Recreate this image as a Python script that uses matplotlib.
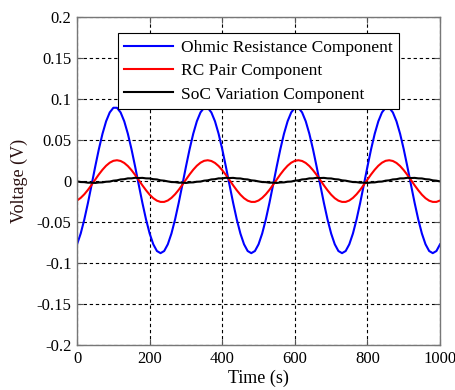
import numpy as np
import matplotlib
matplotlib.use("Agg")
import matplotlib.pyplot as plt

plt.rcParams.update({"font.family": "Liberation Serif", "font.size": 12})

# time axis (s), one sample every 10 s
time_s = np.arange(0, 1001, 10)

# one period (0..240 s), the signal repeats every 250 s
ohmic_period = [-0.0770, -0.0639, -0.0467, -0.0265, -0.0046, 0.0177, 0.0389, 0.0577,
                0.0730, 0.0838, 0.0895, 0.0895, 0.0838, 0.0730, 0.0577, 0.0389,
                0.0177, -0.0046, -0.0265, -0.0467, -0.0639, -0.0770, -0.0852, -0.0878,
                -0.0852]
rc_period = [-0.0236, -0.0204, -0.0160, -0.0106, -0.0045, 0.0019, 0.0082, 0.0139,
             0.0188, 0.0225, 0.0248, 0.0255, 0.0246, 0.0222, 0.0184, 0.0134,
             0.0076, 0.0013, -0.0051, -0.0111, -0.0165, -0.0208, -0.0238, -0.0253,
             -0.0253]
soc_period = [-0.0003, -0.0011, -0.0012, -0.0019, -0.0018, -0.0022, -0.0016, -0.0015,
              -0.0007, -0.0005, 0.0006, 0.0010, 0.0021, 0.0024, 0.0034, 0.0034,
              0.0041, 0.0038, 0.0040, 0.0034, 0.0033, 0.0024, 0.0021, 0.0010,
              0.0006]

ohmic = ohmic_period * 4 + ohmic_period[:1]
rc_pair = rc_period * 4 + rc_period[:1]
soc_var = soc_period * 4 + soc_period[:1]

fig = plt.figure(figsize=(4.56, 3.9), dpi=100)
ax = fig.add_axes([0.169, 0.115, 0.796, 0.841])

ax.plot(time_s, ohmic, color="#0000ff", lw=1.5, label="Ohmic Resistance Component")
ax.plot(time_s, rc_pair, color="#ff0000", lw=1.5, label="RC Pair Component")
ax.plot(time_s, soc_var, color="black", lw=1.5, label="SoC Variation Component")

ax.set_xlim(0, 1000)
ax.set_ylim(-0.2, 0.2)
ax.set_xticks(np.arange(0, 1001, 200))
ax.set_yticks(np.arange(-0.2, 0.201, 0.05))
ax.set_yticklabels(["-0.2", "-0.15", "-0.1", "-0.05", "0", "0.05", "0.1", "0.15", "0.2"])
ax.grid(True, color="black", linestyle=(0, (3, 2.5)), linewidth=0.8)
ax.tick_params(direction="in", top=True, right=True, length=4, color="#555555", pad=4)
for sp in ax.spines.values():
    sp.set_color("#777777")
    sp.set_linewidth(1.0)

ax.set_xlabel("Time (s)", fontsize=13)
ax.set_ylabel("Voltage (V)", fontsize=13, color="#2a1010")
ax.xaxis.set_label_coords(0.5, -0.075)
ax.yaxis.set_label_coords(-0.135, 0.5)

leg = ax.legend(loc="upper center", bbox_to_anchor=(0.50, 0.977), fontsize=12.5,
                fancybox=False, framealpha=1, edgecolor="black", handlelength=2.8,
                borderpad=0.35, labelspacing=0.42, handletextpad=0.5)
leg.get_frame().set_linewidth(0.8)

fig.savefig("out.png", dpi=100)
